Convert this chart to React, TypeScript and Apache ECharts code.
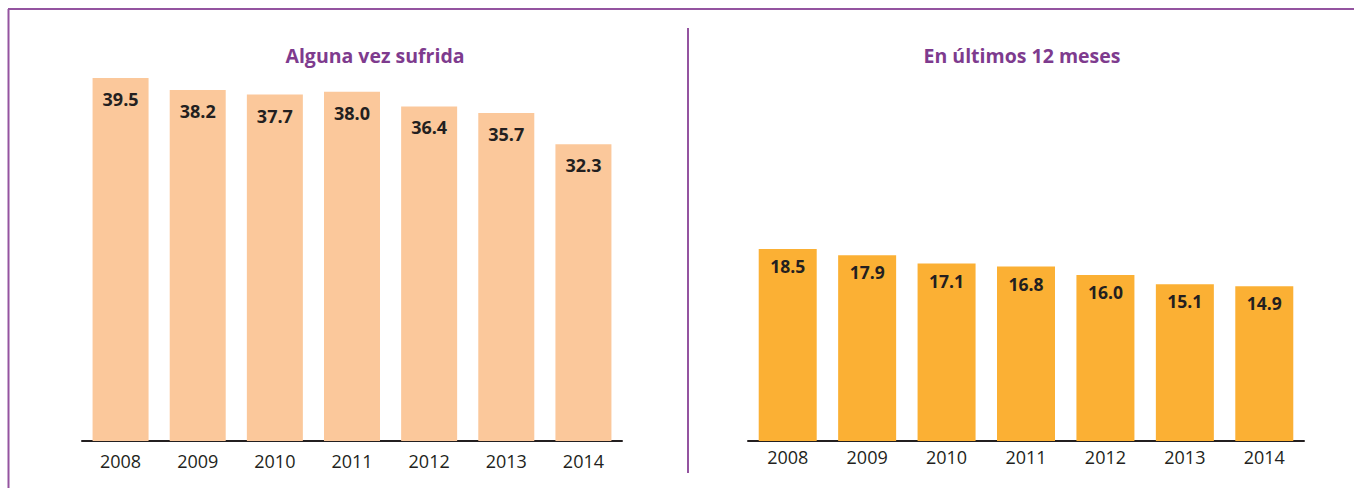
import React, { useEffect, useRef } from "react";
import * as echarts from "echarts";

const years = ["2008", "2009", "2010", "2011", "2012", "2013", "2014"];
const algunaVez = [39.5, 38.2, 37.7, 38.0, 36.4, 35.7, 32.3];
const ultimos12 = [18.5, 17.9, 17.1, 16.8, 16.0, 15.1, 14.9];
const titles = ["Alguna vez sufrida", "En últimos 12 meses"];

const FONT = "'Open Sans', sans-serif";
const PURPLE_LINE = "#9454a0";
const PURPLE_TEXT = "#7e3b8e";
const DARK = "#231f20";

export default function App() {
  const ref = useRef<HTMLDivElement>(null);
  useEffect(() => {
    if (!ref.current) return;
    const chart = echarts.init(ref.current, null, { renderer: "svg" });
    const axisLabel = (margin: number) => ({
      color: DARK,
      fontFamily: FONT,
      fontSize: 18,
      margin,
    });
    const titleStyle = { color: PURPLE_TEXT, fontFamily: FONT, fontWeight: "bold", fontSize: 19.5 };
    chart.setOption({
      animation: false,
      backgroundColor: "#ffffff",
      title: [
        { text: titles[0], left: 370, top: 40, textAlign: "center", textStyle: titleStyle },
        { text: titles[1], left: 1017, top: 40, textAlign: "center", textStyle: titleStyle },
      ],
      grid: [
        { left: 82, right: 732, top: 73.4, bottom: 47 },
        { left: 748, right: 50, top: 233.4, bottom: 47 },
      ],
      xAxis: [
        {
          type: "category",
          gridIndex: 0,
          data: years,
          axisLine: { lineStyle: { color: DARK, width: 2 } },
          axisTick: { show: false },
          axisLabel: axisLabel(11),
        },
        {
          type: "category",
          gridIndex: 1,
          data: years,
          axisLine: { lineStyle: { color: DARK, width: 2 } },
          axisTick: { show: false },
          axisLabel: axisLabel(7),
        },
      ],
      yAxis: [
        { type: "value", gridIndex: 0, min: 0, max: 40, show: false, splitLine: { show: false } },
        { type: "value", gridIndex: 1, min: 0, max: 20, show: false, splitLine: { show: false } },
      ],
      series: [
        {
          type: "bar",
          xAxisIndex: 0,
          yAxisIndex: 0,
          data: algunaVez,
          barWidth: 56,
          itemStyle: { color: "#fbc89b" },
          label: {
            show: true,
            position: "insideTop",
            distance: 12,
            color: DARK,
            fontFamily: FONT,
            fontWeight: "bold",
            fontSize: 18,
            formatter: (p: any) => p.value.toFixed(1),
          },
        },
        {
          type: "bar",
          xAxisIndex: 1,
          yAxisIndex: 1,
          data: ultimos12,
          barWidth: 58,
          itemStyle: { color: "#fbb034" },
          label: {
            show: true,
            position: "insideTop",
            distance: 8,
            color: DARK,
            fontFamily: FONT,
            fontWeight: "bold",
            fontSize: 17.5,
            formatter: (p: any) => p.value.toFixed(1),
          },
        },
      ],
      graphic: [
        { type: "line", shape: { x1: 8, y1: 9, x2: 1354, y2: 9 }, style: { stroke: PURPLE_LINE, lineWidth: 2 } },
        { type: "line", shape: { x1: 8.5, y1: 9, x2: 8.5, y2: 488 }, style: { stroke: PURPLE_LINE, lineWidth: 2 } },
        { type: "line", shape: { x1: 688, y1: 28, x2: 688, y2: 473 }, style: { stroke: PURPLE_LINE, lineWidth: 2 } },
      ],
    });
    return () => chart.dispose();
  }, []);
  return (
    <div
      ref={ref}
      style={{ position: "fixed", left: 0, top: 0, width: 1354, height: 488, background: "#fff" }}
    />
  );
}
